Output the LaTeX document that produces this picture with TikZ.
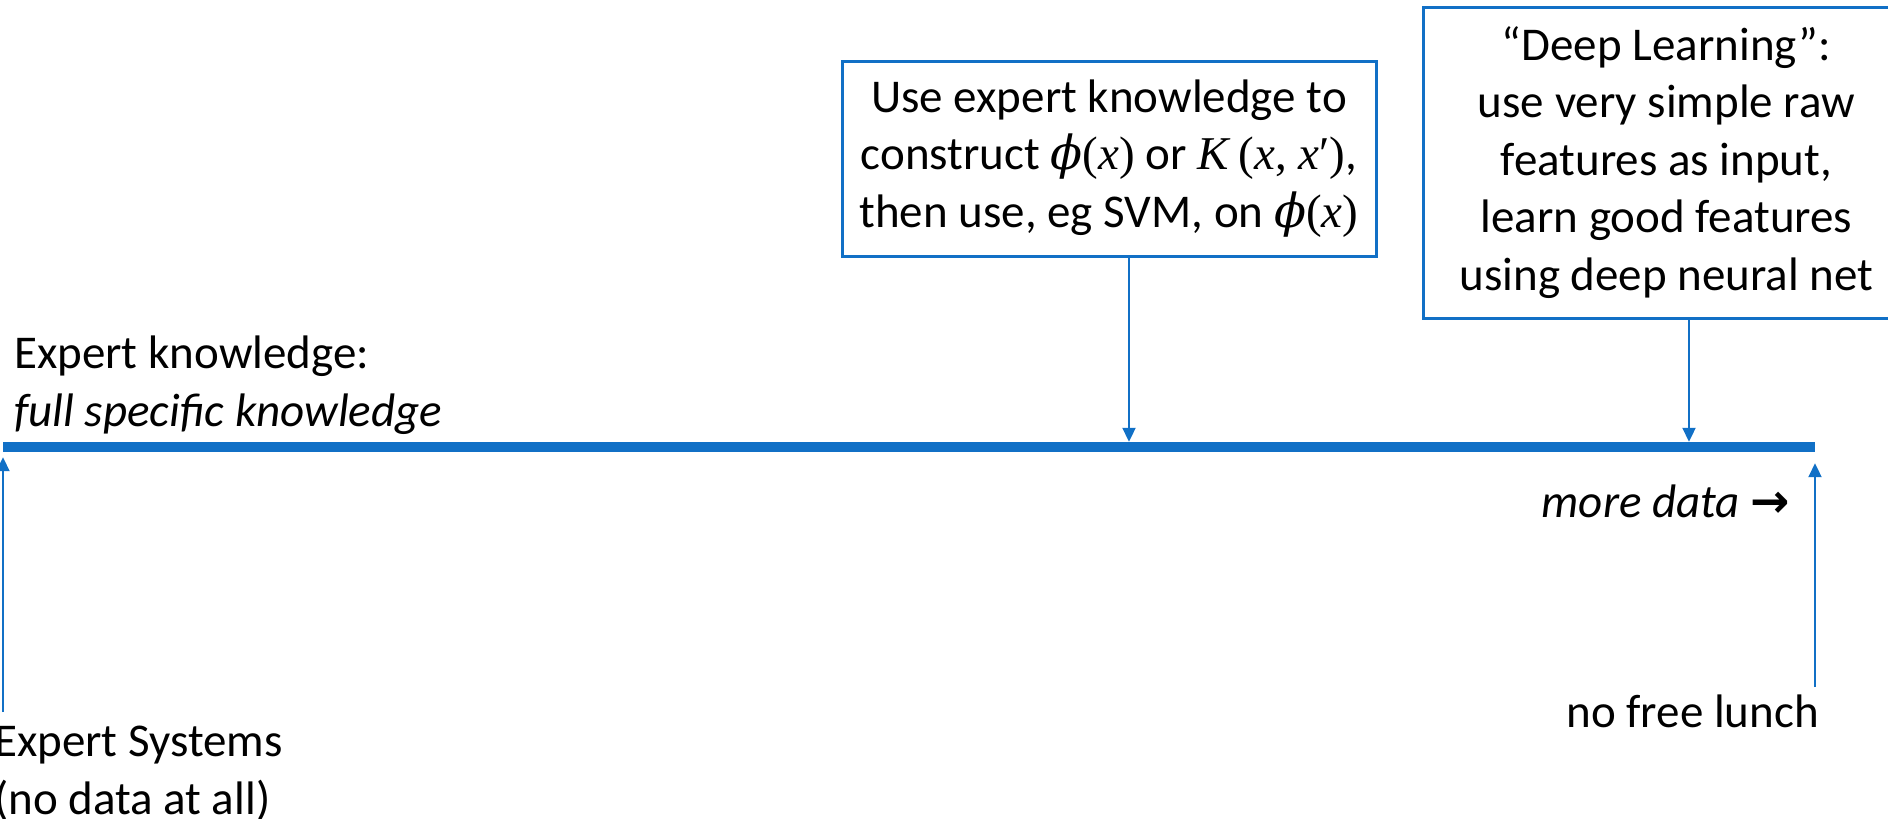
\documentclass[tikz,border=0pt]{standalone}
\usepackage{fontspec}
\setmainfont{Carlito}
\newfontfamily\arrowfont{DejaVu Sans}
\newfontfamily\mfont{Liberation Serif}
\newfontfamily\gfont{DejaVu Serif}
\newcommand{\myphix}{{\gfont\itshape ϕ}{\mfont(\textit{x})}}
\newcommand{\myKxx}{{\mfont\textit{K}\,(\textit{x}, \textit{x}′)}}
\usetikzlibrary{arrows.meta}
\definecolor{lineblue}{HTML}{1170C6}
\tikzset{
  txt/.style={inner sep=0pt, font=\fontsize{47}{57.5}\selectfont, text=black},
  box/.style={txt, draw=lineblue, line width=3pt, align=center, fill=white},
  conn/.style={draw=lineblue, line width=2pt, -{Triangle[width=13pt,length=14pt]}},
  axisbar/.style={fill=lineblue, inner sep=0pt, minimum width=1812pt, minimum height=10pt}
}
\begin{document}
\begin{tikzpicture}[x=1pt,y=-1pt]
\useasboundingbox (0,0) rectangle (1888,819);
\node[axisbar] (axis) at (909,447) {};
\node[box, minimum width=534pt, minimum height=195pt] (b1) at (1109,158.5)
  {Use expert knowledge to\\construct \myphix{} or \myKxx,\\then use, eg SVM, on \myphix};
\node[box, minimum width=487pt, minimum height=311pt] (b2) at (1666.5,162.5)
  {``Deep Learning'':\\use very simple raw\\features as input,\\learn good features\\using deep neural net};
\node[txt, anchor=north west, align=left] (ek) at (14,336)
  {Expert knowledge:\\\textit{full specific knowledge}};
\node[txt, anchor=north west, align=left] (es) at (-6,726)
  {Expert Systems\\(no data at all)};
\node[txt, anchor=base east] (md) at (1790,517) {\textit{more data} {\arrowfont\bfseries →}};
\node[txt, anchor=base east] (nfl) at (1819,727) {no free lunch};
\coordinate (esTop) at (3,712);
\coordinate (nflTop) at (1815,687);
\draw[conn] (b1.south -| 1129,0) -- (1129,0 |- axis.north);
\draw[conn] (b2.south -| 1689,0) -- (1689,0 |- axis.north);
\draw[conn, shorten >=5pt] (esTop) -- (esTop |- axis.south);
\draw[conn, shorten >=11pt] (nflTop) -- (nflTop |- axis.south);
\end{tikzpicture}
\end{document}
